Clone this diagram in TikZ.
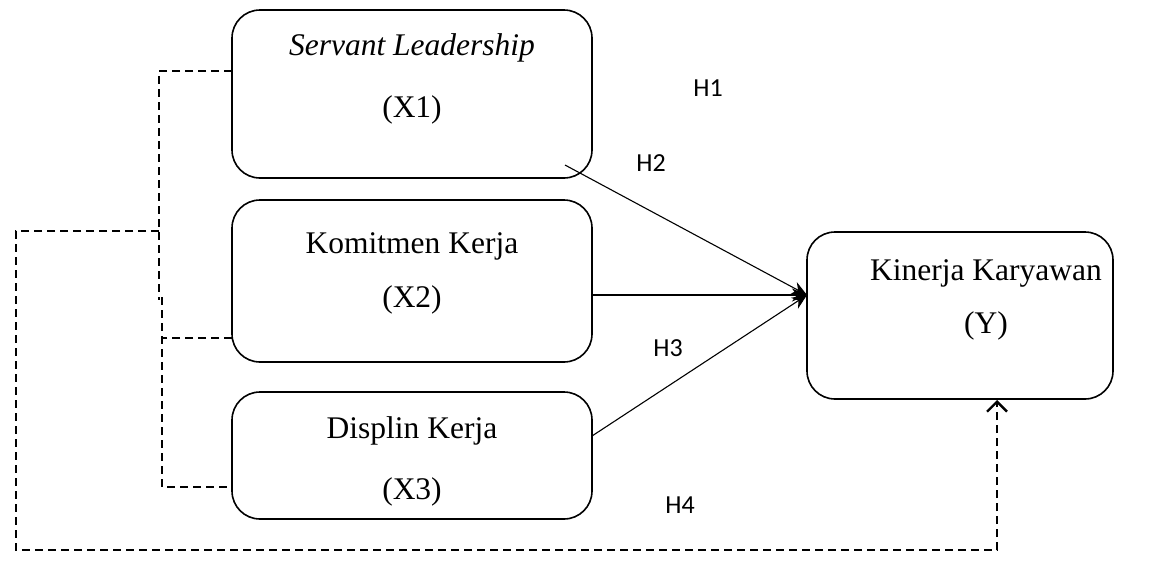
\documentclass[tikz,border=0pt]{standalone}
\usepackage{fontspec}
\setmainfont{Liberation Serif}
\newfontfamily\hfont{Carlito}
\usetikzlibrary{arrows.meta}
\begin{document}
\begin{tikzpicture}[x=1pt,y=-1pt,
  varbox/.style={draw,line width=1.6pt,rounded corners=28pt},
  vtext/.style={font=\fontsize{31.5}{34}\selectfont,inner sep=0pt},
  hlabel/.style={font=\hfont\fontsize{26}{28}\selectfont,inner sep=0pt},
  path1/.style={line width=1.1pt,-{Stealth[length=15pt,width=13pt]}},
  dashline/.style={line width=1.6pt,dash pattern=on 8pt off 5pt}]
\useasboundingbox (0,0) rectangle (1160,582);
% boxes
\draw[varbox] (232,10) rectangle (592,178);
\draw[varbox] (232,200) rectangle (592,362);
\draw[varbox] (232,392) rectangle (592,519);
\draw[varbox] (807,232) rectangle (1113,399);
\coordinate (x1w) at (232,71);
\coordinate (x1se) at (565,165);
\coordinate (x2w) at (232,338);
\coordinate (x2e) at (592,295);
\coordinate (x3w) at (232,487);
\coordinate (x3e) at (592,436);
\coordinate (yw) at (807,295);
\coordinate (ys) at (997,400);
% texts
\node[vtext] (t1) at (412,48) {\itshape Servant Leadership};
\node[vtext] (t1b) at (412,110) {(X1)};
\node[vtext] (t2) at (412,246) {Komitmen Kerja};
\node[vtext] (t2b) at (412,300) {(X2)};
\node[vtext] (t3) at (412,431) {Displin Kerja};
\node[vtext] (t3b) at (412,492) {(X3)};
\node[vtext] (ty) at (986,273) {Kinerja Karyawan};
\node[vtext] (tyb) at (986,326) {(Y)};
% hypothesis labels
\node[hlabel] (h1) at (708,88) {H1};
\node[hlabel] (h2) at (651,163) {H2};
\node[hlabel] (h3) at (668,348) {H3};
\node[hlabel] (h4) at (680,505) {H4};
% solid arrows
\draw[path1] (x1se) -- (yw);
\draw[path1] (x2e) -- (yw);
\draw[path1] (x3e) -- (yw);
% dashed connectors
\coordinate (a1) at (159,71);
\coordinate (a2) at (159,300);
\coordinate (b1) at (162,297);
\coordinate (b2) at (162,338);
\coordinate (b3) at (162,487);
\coordinate (c1) at (159,231);
\coordinate (c2) at (16,231);
\coordinate (c3) at (16,550);
\coordinate (c4) at (997,550);
\draw[dashline] (x1w) -- (a1) -- (a2);
\draw[dashline] (b1) -- (b3) -- (x3w);
\draw[dashline] (x2w) -- (b2);
\draw[dashline,-{Straight Barb[length=10pt,width=20pt,line width=2.4pt]}] (c1) -- (c2) -- (c3) -- (c4) -- (ys);
\end{tikzpicture}
\end{document}
